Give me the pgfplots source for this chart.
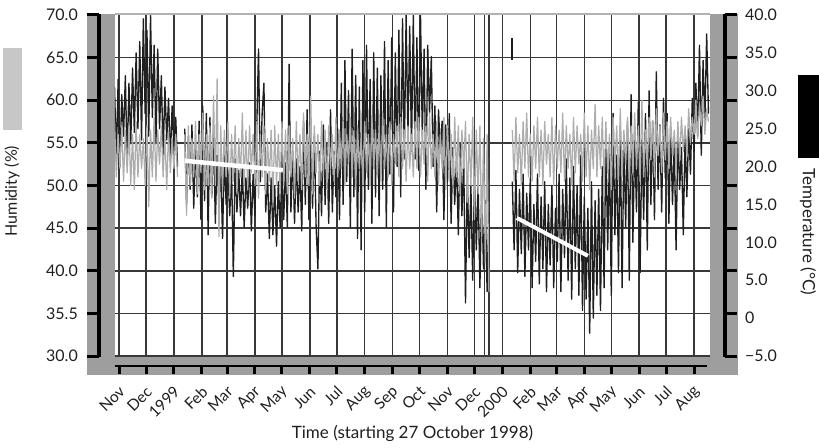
\documentclass[border=0pt]{standalone}
\usepackage{fontspec}
\setmainfont{Lato}
\usepackage{pgfplots}
\pgfplotsset{compat=1.18}
\definecolor{band}{gray}{0.62}
\definecolor{hum}{gray}{0.68}
\definecolor{gridc}{gray}{0.22}
\definecolor{txt}{gray}{0.12}
\begin{document}
\begin{tikzpicture}
\useasboundingbox (-115pt,-91pt) rectangle (704pt,356pt);
% gray frame bands
\fill[band] (-28pt,-19pt) rectangle (0pt,342pt);
\fill[band] (-28pt,-19pt) rectangle (623pt,-1pt);
\fill[band] (595pt,-19pt) rectangle (623pt,342pt);
% ---------------- temperature axis (right) ----------------
\begin{axis}[
  scale only axis, width=595pt, height=341pt,
  at={(0pt,0pt)}, anchor=south west,
  xmin=0.5, xmax=661.7, ymin=-5, ymax=40,
  axis line style={draw=none}, major tick length=0pt,
  xtick={5,35,66,97,125,156,186,217,247,278,309,339,370,400,431,462,491,522,552,583,613,644},
  xticklabels={},
  extra x ticks={411,416}, extra x tick labels={}, extra x tick style={grid=major},
  ytick={-5,0.625,6.25,11.875,17.5,23.125,28.75,34.375},
  yticklabels={},
  extra y ticks={-5,0,5,10,15,20,25,30,35,40},
  extra y tick labels={−5.0,0,5.0,10.0,15.0,20.0,25.0,30.0,35.0,40.0},
  extra y tick style={grid=none},
  yticklabel pos=right,
  yticklabel style={anchor=west, inner sep=0pt, xshift=35pt, text=txt, font=\fontsize{16}{16}\selectfont},
  grid=major, major grid style={gridc, line width=1.5pt},
  unbounded coords=jump,
]
\addplot[black!88, line width=1.35pt, line join=round] coordinates {
(0,30.5)(2,21)(4,31.5)(6,20)(8,29.5)(10,24)(12,32)(14,20.5)(16,31)(18,23)(20,33)(22,24.5)(24,35)(26,25)(28,36.5)(30,23.5)(32,39.5)(34,27)(36,38)(38,24)(40,40)(42,26.5)(44,36)(46,23)(48,35.5)(50,25)(52,32)(54,21.5)(56,30.5)(58,23.5)(60,29)(62,21)(64,28)(66,22.5)(68,26.5)(70,20)(74,nan)
(78,25)(80,15)(82,24)(84,17)(86,25.5)(88,14.5)(90,23)(92,16)(94,26)(96,13)(98,28)(100,15.5)(102,27)(104,11)(106,26.5)(108,16)(110,25)(112,12.5)(114,21.5)(116,14.5)(118,20.5)(120,10.5)(122,21.5)(124,15)(126,19.5)(128,13.5)(130,20)(132,5.5)(134,21)(136,14)(138,19.5)(140,13.5)(142,20)(144,12)(146,18.5)(148,14.5)(150,20.5)(152,11.5)(154,19)(156,13.5)(158,25)(160,35.5)(162,18)(164,27)(166,31)(168,14)(170,19)(172,10.5)(174,18.5)(176,11)(178,17.5)(180,9.5)(182,18)(184,12)(186,19.5)
(188,13)(190,20.5)(192,12)(194,33.5)(196,14)(198,22)(200,12.5)(202,21)(204,14)(206,20)(208,11.5)(210,26)(212,15)(214,27.5)(216,13)(218,26)(220,14.5)(222,24)(224,12)(226,6.5)(228,22)(230,13.5)(232,25.5)(234,15)(236,23)(238,12.5)(240,27.5)(242,14)(244,22)(246,16)(248,25)(250,13)(252,31)(254,15)(256,34)(258,18)(260,30)(262,12)(264,35.5)(266,16)(268,32)(270,10.5)(272,30.5)(274,9)(276,34)(278,14)(280,36)(282,17)(284,31.5)(286,12.5)(288,35)(290,16)(292,33)(294,13.5)(296,32)(298,17)(300,36.5)(302,12)(304,34)(306,19)(308,37)(310,14)(312,35)(314,20)(316,38)(318,16)(320,39.5)(322,21)(324,40)(326,24)(328,38.5)(330,22)(332,40)(334,21)
(336,37)(338,19.5)(340,40)(342,24)(344,35.5)(346,17)(348,36)(350,27)(352,34.5)(354,20)(356,28)(358,14)(360,27.5)(362,22)(364,26)(366,13)(368,25.5)(370,18)(372,27)(374,12.5)(376,22.5)(378,15)(380,21)(382,11)(384,23)(386,13.5)(388,21)(390,2)(392,19)(394,8)(396,17.5)(398,5)(400,19.5)(402,9)(404,18)(406,4)(408,17)(410,6.5)(412,15.5)(414,3.5)(416,14)(429,nan)
(442,18)(444,9)(446,19.5)(448,6)(450,17)(452,8.5)(454,19)(456,5.5)(458,16.5)(460,9)(462,18.5)(464,4)(466,15)(468,7.5)(470,19)(472,4.5)(474,16)(476,6.5)(478,18)(480,3.5)(482,15)(484,7)(486,17.5)(488,4)(490,14.5)(492,7.5)(494,19)(496,3.5)(498,17)(500,8)(502,21)(504,5)(506,18.5)(508,2.5)(510,20)(512,6.5)(514,17.5)(516,3)(518,21.5)(520,1)(522,16)(524,2.5)(526,14.5)(528,-2)(530,18)(532,0)(534,15.5)(536,3)(538,17)(540,1)(542,20)(544,4)(546,24)(548,9)(550,22)(552,3)(554,27)(556,11)(558,21.5)(560,6)(562,25)(564,4)(566,23)(568,12)(570,26)(572,5)(574,29.5)(576,10)(578,24)(580,14)(582,28.5)(584,6)(586,23.5)(588,13)(590,27)(592,9)(594,30)(596,15)(598,26)(600,13)(602,32.5)(604,17)(606,25.5)(608,14)(610,29)(612,18.5)(614,27)(616,12.5)(618,25)(620,15)(622,23)(624,9)(626,24.5)(628,17)(630,22.5)(632,11)(634,24)(636,16)(638,25)(640,19)(642,29)(644,22)(646,31)(648,24)(650,36)(652,21.5)(654,34)(656,26)(658,37.5)(660,27)
};
\addplot[black!88, line width=1.4pt] coordinates {(441.5,37)(441.5,34.1)};
\end{axis}
% ---------------- humidity axis (left) ----------------
\begin{axis}[
  scale only axis, width=595pt, height=341pt,
  at={(0pt,0pt)}, anchor=south west,
  xmin=0.5, xmax=661.7, ymin=30, ymax=70,
  axis line style={draw=none}, major tick length=0pt,
  xtick={5,35,66,97,125,156,186,217,247,278,309,339,370,400,431,462,491,522,552,583,613,644},
  xticklabels={Nov,Dec,1999,Feb,Mar,Apr,May,Jun,Jul,Aug,Sep,Oct,Nov,Dec,2000,Feb,Mar,Apr,May,Jun,Jul,Aug},
  xticklabel pos=bottom,
  xticklabel style={yshift=-33pt, xshift=3pt, rotate=45, anchor=east, inner sep=0pt, text=txt, font=\fontsize{15.5}{15.5}\selectfont},
  ytick={30,35,40,45,50,55,60,65,70},
  yticklabels={30.0,35.5,40.0,45.0,50.0,55.0,60.0,65.0,70.0},
  yticklabel pos=left,
  yticklabel style={anchor=east, inner sep=0pt, xshift=-37pt, text=txt, font=\fontsize{16}{16}\selectfont},
  xlabel={Time (starting 27 October 1998)},
  xlabel style={at={(axis description cs:0.5,0)}, anchor=center, yshift=-77pt, text=txt, font=\fontsize{17}{17}\selectfont},
  unbounded coords=jump,
]
\addplot[hum, line width=1.25pt, line join=round] coordinates {
(0,57.5)(2,51)(4,56)(6,52)(8,57)(10,50.5)(12,56.5)(14,51.5)(16,57)(18,50)(20,56)(22,49.5)(24,57.5)(26,51)(28,56)(30,52)(32,55.5)(34,50)(36,57)(38,47.5)(40,56.5)(42,51)(44,58)(46,50.5)(48,56.5)(50,52.5)(52,57)(54,51)(56,56)(58,49.5)(60,56.5)(62,51.5)(64,55.5)(66,52)(68,56)(70,51)(74,nan)
(78,56)(80,46.5)(82,57)(84,50)(86,55.5)(88,51)(90,57.5)(92,49)(94,56)(96,51.5)(98,58.5)(100,49.5)(102,56)(104,50)(106,57)(108,48.5)(110,60.5)(112,50)(114,62.5)(116,44)(118,57)(120,49.5)(122,56.5)(124,51)(126,57.5)(128,48.5)(130,56)(132,50.5)(134,57)(136,49)(138,55.5)(140,51)(142,58.5)(144,50)(146,56.5)(148,49.5)(150,57)(152,51.5)(154,56)(156,50)(158,57.5)(160,48.5)(162,56)(164,51)(166,57)(168,49)(170,55.5)(172,50.5)(174,56.5)(176,48)(178,57)(180,50)(182,56)(184,49.5)(186,57.5)
(188,50)(190,56.5)(192,49)(194,57)(196,51)(198,55.5)(200,48.5)(202,57.5)(204,50.5)(206,56)(208,49.5)(210,58.5)(212,51)(214,56)(216,50)(218,60.5)(220,49)(222,57)(224,51.5)(226,56)(228,50)(230,57.5)(232,51)(234,56.5)(236,49.5)(238,57)(240,52)(242,56)(244,50.5)(246,58)(248,51)(250,56.5)(252,52)(254,57.5)(256,50)(258,56)(260,52.5)(262,58)(264,51)(266,56.5)(268,49.5)(270,57)(272,52)(274,55.5)(276,50.5)(278,57.5)(280,51.5)(282,56)(284,50)(286,58)(288,52)(290,56.5)(292,51)(294,57)(296,50.5)(298,58.5)(300,52)(302,56)(304,51)(306,57.5)(308,50)(310,56)(312,52.5)(314,57)(316,51)(318,58)(320,52)(322,56.5)(324,50.5)(326,57)(328,52)(330,56)(332,51)(334,57.5)
(336,52)(338,58)(340,51)(342,56.5)(344,52.5)(346,57)(348,50.5)(350,58.5)(352,52)(354,56)(356,51)(358,57.5)(360,50)(362,56)(364,52)(366,58)(368,49.5)(370,57)(372,51.5)(374,56)(376,50)(378,58)(380,51)(382,57)(384,49)(386,56.5)(388,52)(390,57.5)(392,48)(394,56)(396,50)(398,58)(400,46)(402,56.5)(404,49)(406,57)(408,44)(410,55.5)(412,41)(414,56)(416,37.5)(429,nan)
(442,56.5)(444,50.5)(446,58)(448,51.5)(450,56)(452,50)(454,57.5)(456,52)(458,58.5)(460,51)(462,56)(464,50.5)(466,57)(468,52)(470,58)(472,51)(474,56.5)(476,50)(478,57.5)(480,52.5)(482,56)(484,51)(486,58)(488,50)(490,57)(492,52)(494,56.5)(496,51.5)(498,58.5)(500,50.5)(502,57)(504,52)(506,56)(508,50)(510,58)(512,51.5)(514,57)(516,52.5)(518,56)(520,50.5)(522,58.5)(524,51)(526,57)(528,49.5)(530,56.5)(532,52)(534,59.5)(536,51)(538,57)(540,52)(542,58)(544,50)(546,57.5)(548,51.5)(550,56)(552,49.5)(554,58)(556,52)(558,57)(560,50.5)(562,59)(564,51)(566,56.5)(568,52.5)(570,58)(572,50)(574,57)(576,51.5)(578,58.5)(580,52)(582,57)(584,50.5)(586,60)(588,51)(590,56.5)(592,52)(594,58)(596,53)(598,57.5)(600,51)(602,59)(604,53.5)(606,57)(608,51.5)(610,58.5)(612,53)(614,57.5)(616,52)(618,58)(620,53.5)(622,56.5)(624,52)(626,57.5)(628,53)(630,58)(632,54)(634,57)(636,53.5)(638,59)(640,55)(642,58)(644,56)(646,60)(648,55.5)(650,59.5)(652,57)(654,60.5)(656,56)(658,59)(660,57.5)
};
% white trend lines
\addplot[white, line width=4.5pt] coordinates {(78,52.9)(187,51.8)};
\addplot[white, line width=4pt] coordinates {(447,46.2)(526,41.75)};
\end{axis}
% ---------------- frame decorations ----------------
\draw[black!30, line width=2pt] (0pt,342pt) -- (595pt,342pt);
\draw[black, line width=4pt] (-16pt,342pt) -- (-16pt,-1pt);
\draw[black, line width=4pt] (609.5pt,342pt) -- (609.5pt,-0.5pt);
\draw[black, line width=2.5pt] (0pt,-10pt) -- (592pt,-10pt);
\foreach \y in {0,42.625,85.25,127.875,170.5,213.125,255.75,298.375,341} {
  \draw[black, line width=3pt] (-28pt,\y pt) -- (-16pt,\y pt);
  \draw[black, line width=3pt] (609.5pt,\y pt) -- (622pt,\y pt);
}
\foreach \d in {5,35,66,97,125,156,186,217,247,278,309,339,370,400,431,462,491,522,552,583,613,644} {
  \draw[black, line width=3pt] ({(0.9*\d-0.45)*1pt},-10pt) -- ({(0.9*\d-0.45)*1pt},-18pt);
}
% legend keys and axis titles
\fill[black!22] (-112pt,226pt) rectangle (-93pt,308pt);
\node[rotate=90, text=txt, font=\fontsize{16}{16}\selectfont] at (-103pt,165pt) {Humidity (\%)};
\fill[black] (683pt,198pt) rectangle (704pt,281pt);
\node[rotate=-90, text=txt, font=\fontsize{17}{17}\selectfont] at (693pt,124pt) {Temperature (°C)};
\end{tikzpicture}
\end{document}
